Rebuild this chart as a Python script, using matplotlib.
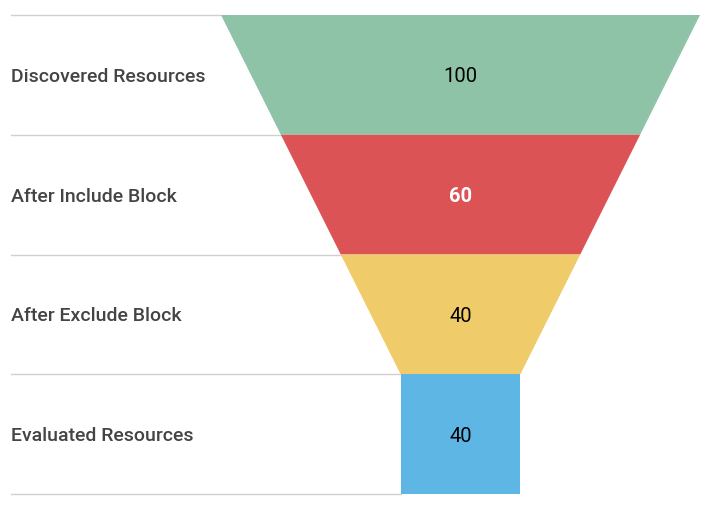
import matplotlib
matplotlib.use("Agg")
import matplotlib.pyplot as plt
from matplotlib.patches import Polygon

plt.rcParams['font.family'] = ['Roboto', 'DejaVu Sans']

etapas = ['Discovered Resources', 'After Include Block', 'After Exclude Block', 'Evaluated Resources']
valores = [100, 60, 40, 40]
colores = ['#8FC3A7', '#DC5356', '#F0CB69', '#5EB6E4']
color_valor = ['black', 'white', 'black', 'black']
peso_valor = ['normal', 'bold', 'normal', 'normal']

# forma del embudo: ancho completo arriba, cuello del 25% en la ultima fila
ancho_cuello = 0.25
filas_cuello = 1

def ancho(y):
    n = len(etapas) - filas_cuello
    if y >= n:
        return ancho_cuello
    return 1 - (1 - ancho_cuello) * y / n

fig = plt.figure(figsize=(7.11, 5.08), dpi=100)
ax = fig.add_axes([11/711, 14/508, 689/711, 479/508])
izq = -449.5/479
ax.set_xlim(izq, 0.5)
ax.set_ylim(len(etapas), 0)
ax.axis('off')

for i, (nombre, v) in enumerate(zip(etapas, valores)):
    a0, a1 = ancho(i), ancho(i + 1)
    pts = [(-a0/2, i), (a0/2, i), (a1/2, i + 1), (-a1/2, i + 1)]
    ax.add_patch(Polygon(pts, closed=True, facecolor=colores[i], edgecolor='none', zorder=2))
    ax.text(izq, i + 0.5, nombre, ha='left', va='center_baseline', fontsize=14,
            color='#444444', fontweight='medium')
    ax.text(0, i + 0.5, str(v), ha='center', va='center_baseline', fontsize=14.5,
            color=color_valor[i], fontweight=peso_valor[i], zorder=3)

# lineas separadoras hasta el borde izquierdo del embudo
for y in range(len(etapas) + 1):
    ax.plot([izq, -ancho(min(y, len(etapas)))/2], [y, y], color='#D0D0D0', lw=1, zorder=1,
            clip_on=False)

fig.savefig('out.png', dpi=100)
